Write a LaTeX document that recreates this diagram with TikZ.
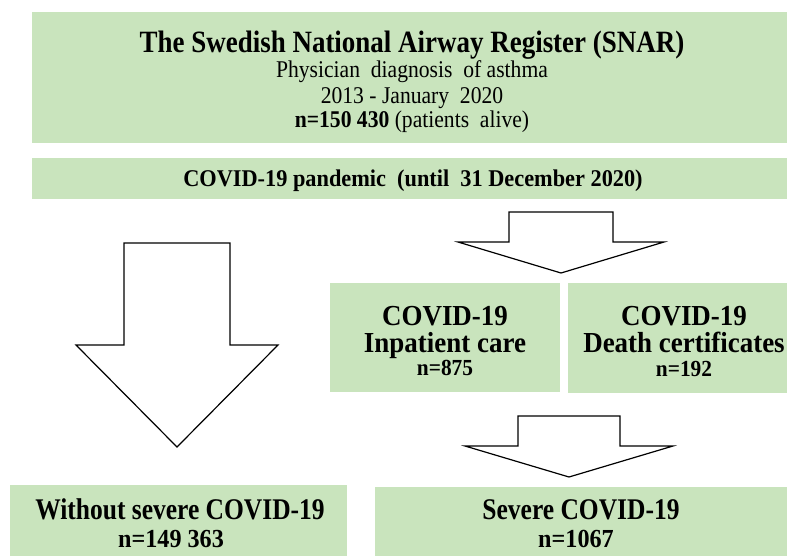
\documentclass[tikz,border=0pt]{standalone}
\usepackage{fontspec}
\setmainfont{Liberation Serif}
\newfontfamily\sEF[FakeStretch=0.85]{Liberation Serif}
\newfontfamily\sES[FakeStretch=0.87]{Liberation Serif}
\newfontfamily\sNZ[FakeStretch=0.90]{Liberation Serif}
\newfontfamily\sNT[FakeStretch=0.93]{Liberation Serif}
\definecolor{boxgreen}{RGB}{201,228,189}
% a centred stack of lines whose baseline is that of its first line
\newcommand\linestack[2]{\vtop{\baselineskip=#1\lineskiplimit=-100pt\lineskip=0pt
  \halign{\hfil##\hfil\cr#2\crcr}}}
\newcommand\ttlf{\sES\bfseries\fontsize{31}{31}\selectfont}
\newcommand\subf{\sNZ\mdseries\fontsize{24}{24}\selectfont}
\newcommand\panf{\sNT\bfseries\fontsize{24}{24}\selectfont}
\newcommand\midf{\sNT\bfseries\fontsize{29}{29}\selectfont}
\newcommand\midnf{\sNT\bfseries\fontsize{23}{23}\selectfont}
\newcommand\botf{\sEF\bfseries\fontsize{30}{30}\selectfont}
\newcommand\botnf{\sNT\bfseries\fontsize{26}{26}\selectfont}
\begin{document}
\begin{tikzpicture}[x=1pt,y=-1pt,
  gbox/.style={fill=boxgreen, draw=none, inner sep=0pt, outer sep=0pt, anchor=north west},
  blockarrow/.style={draw=black, fill=white, line width=1.2pt, line join=miter},
  txt/.style={inner sep=0pt, anchor=base},
]
\useasboundingbox (0,0) rectangle (787,555);
\clip (0,0) rectangle (787,555);

% boxes
\node[gbox, minimum width=760pt, minimum height=131pt] (snar) at (32,12) {};
\node[gbox, minimum width=760pt, minimum height=41pt] (pand) at (32,158) {};
\node[gbox, minimum width=230pt, minimum height=109pt] (inp) at (330,283) {};
\node[gbox, minimum width=232pt, minimum height=110pt] (death) at (568,283) {};
\node[gbox, minimum width=337pt, minimum height=75pt] (without) at (10,485) {};
\node[gbox, minimum width=425pt, minimum height=73pt] (severe) at (375,487) {};

% texts
\node[txt] (snartext) at (412,52) {\linestack{26pt}{%
  {\ttlf The Swedish National Airway Register (SNAR)}\cr
  \noalign{\kern-1pt}
  {\subf Physician\ \ diagnosis\ \ of asthma}\cr
  {\subf 2013 - January\ \ 2020}\cr
  \noalign{\kern-2pt}
  {\subf \textbf{n=150 430} (patients\ \ alive)}\cr}};

\node[txt, font=\panf] (pandtext) at (413,186) {COVID-19 pandemic\ \ (until\ \ 31 December 2020)};

\node[txt] (inptext) at (445,325) {\linestack{27pt}{%
  {\midf COVID-19}\cr
  {\midf Inpatient care}\cr
  \noalign{\kern-4pt}
  {\midnf n=875}\cr}};

\node[txt] (deathtext) at (684,325) {\linestack{27pt}{%
  {\midf COVID-19}\cr
  {\midf Death certificates}\cr
  \noalign{\kern-3pt}
  {\midnf n=192}\cr}};

\node[txt] (withouttext) at (180,519) {\linestack{28pt}{%
  {\botf Without severe COVID-19}\cr
  {\botnf n=149 363}\kern18pt\cr}};

\node[txt] (severetext) at (581,519) {\linestack{28pt}{%
  {\botf Severe COVID-19}\cr
  {\botnf n=1067}\kern10pt\cr}};

% block arrows
\draw[blockarrow] (124,243) -- (230,243) -- (230,345) -- (278,345) -- (177,447)
  -- (76,345) -- (124,345) -- cycle;
\draw[blockarrow] (509,212) -- (613,212) -- (613,242) -- (664,242) -- (561,273)
  -- (458,242) -- (509,242) -- cycle;
\draw[blockarrow] (518,416) -- (620,416) -- (620,446) -- (673,446) -- (569,477)
  -- (465,446) -- (518,446) -- cycle;
\end{tikzpicture}
\end{document}
